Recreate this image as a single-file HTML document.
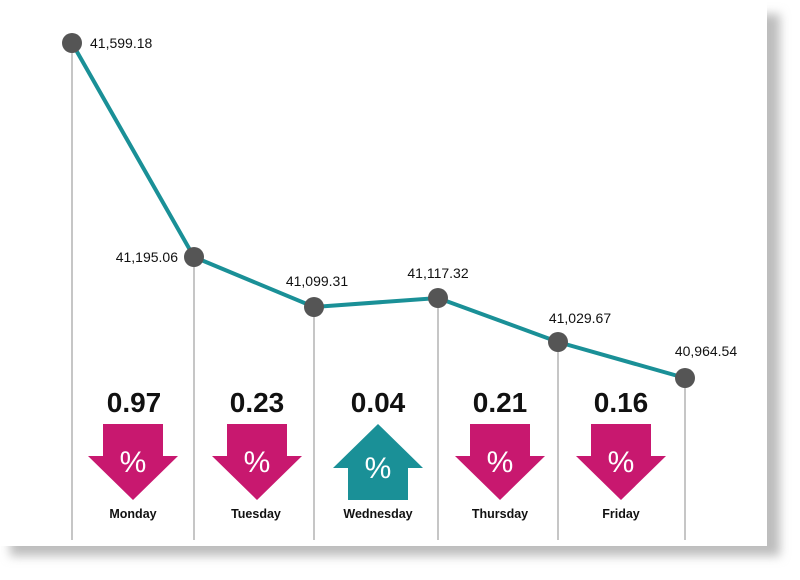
<!DOCTYPE html>
<html><head><style>
body{margin:0;background:#fff;}
</style></head><body>
<svg width="800" height="580" xmlns="http://www.w3.org/2000/svg" style="display:block">
<defs><filter id="b" x="-10%" y="-10%" width="120%" height="120%"><feGaussianBlur stdDeviation="5"/></filter></defs>
<rect x="0" y="0" width="800" height="580" fill="#fff"/>
<rect x="10" y="14" width="770" height="542" fill="#bdbdbd" filter="url(#b)"/>
<rect x="0" y="0" width="767" height="546" fill="#fff"/>
<g stroke="#a8a8a8" stroke-width="1.3">
<line x1="72" y1="43" x2="72" y2="540"/><line x1="194" y1="257" x2="194" y2="540"/>
<line x1="314" y1="307" x2="314" y2="540"/><line x1="438" y1="298" x2="438" y2="540"/>
<line x1="558" y1="342" x2="558" y2="540"/><line x1="685" y1="378" x2="685" y2="540"/>
</g>
<polyline points="72,43 194,257 314,307 438,298 558,342 685,378" fill="none" stroke="#1a9097" stroke-width="4"/>
<g fill="#555"><circle cx="72" cy="43" r="10"/><circle cx="194" cy="257" r="10"/><circle cx="314" cy="307" r="10"/><circle cx="438" cy="298" r="10"/><circle cx="558" cy="342" r="10"/><circle cx="685" cy="378" r="10"/></g>
<g font-family="Liberation Sans, sans-serif" font-size="14" fill="#111">
<text x="90" y="48">41,599.18</text>
<text x="178" y="262" text-anchor="end">41,195.06</text>
<text x="317" y="286" text-anchor="middle">41,099.31</text>
<text x="438" y="278" text-anchor="middle">41,117.32</text>
<text x="580" y="323" text-anchor="middle">41,029.67</text>
<text x="706" y="356" text-anchor="middle">40,964.54</text>
</g>
<g font-family="Liberation Sans, sans-serif" font-weight="bold" font-size="28" fill="#111" text-anchor="middle">
<text x="134" y="412">0.97</text><text x="257" y="412">0.23</text><text x="378" y="412">0.04</text><text x="500" y="412">0.21</text><text x="621" y="412">0.16</text>
</g>
<g fill="#c8186f">
<polygon points="103,424 163,424 163,456 178,456 133,500 88,456 103,456"/>
<polygon points="227,424 287,424 287,456 302,456 257,500 212,456 227,456"/>
<polygon points="470,424 530,424 530,456 545,456 500,500 455,456 470,456"/>
<polygon points="591,424 651,424 651,456 666,456 621,500 576,456 591,456"/>
</g>
<polygon fill="#1a9097" points="378,424 423,468 408,468 408,500 348,500 348,468 333,468"/>
<g font-family="Liberation Sans, sans-serif" font-size="30" fill="#fff" text-anchor="middle">
<text x="133" y="472">%</text><text x="257" y="472">%</text><text x="378" y="478">%</text><text x="500" y="472">%</text><text x="621" y="472">%</text>
</g>
<g font-family="Liberation Sans, sans-serif" font-weight="bold" font-size="12.5" fill="#111" text-anchor="middle">
<text x="133" y="518">Monday</text><text x="256" y="518">Tuesday</text><text x="378" y="518">Wednesday</text><text x="500" y="518">Thursday</text><text x="621" y="518">Friday</text>
</g>
</svg>
</body></html>
